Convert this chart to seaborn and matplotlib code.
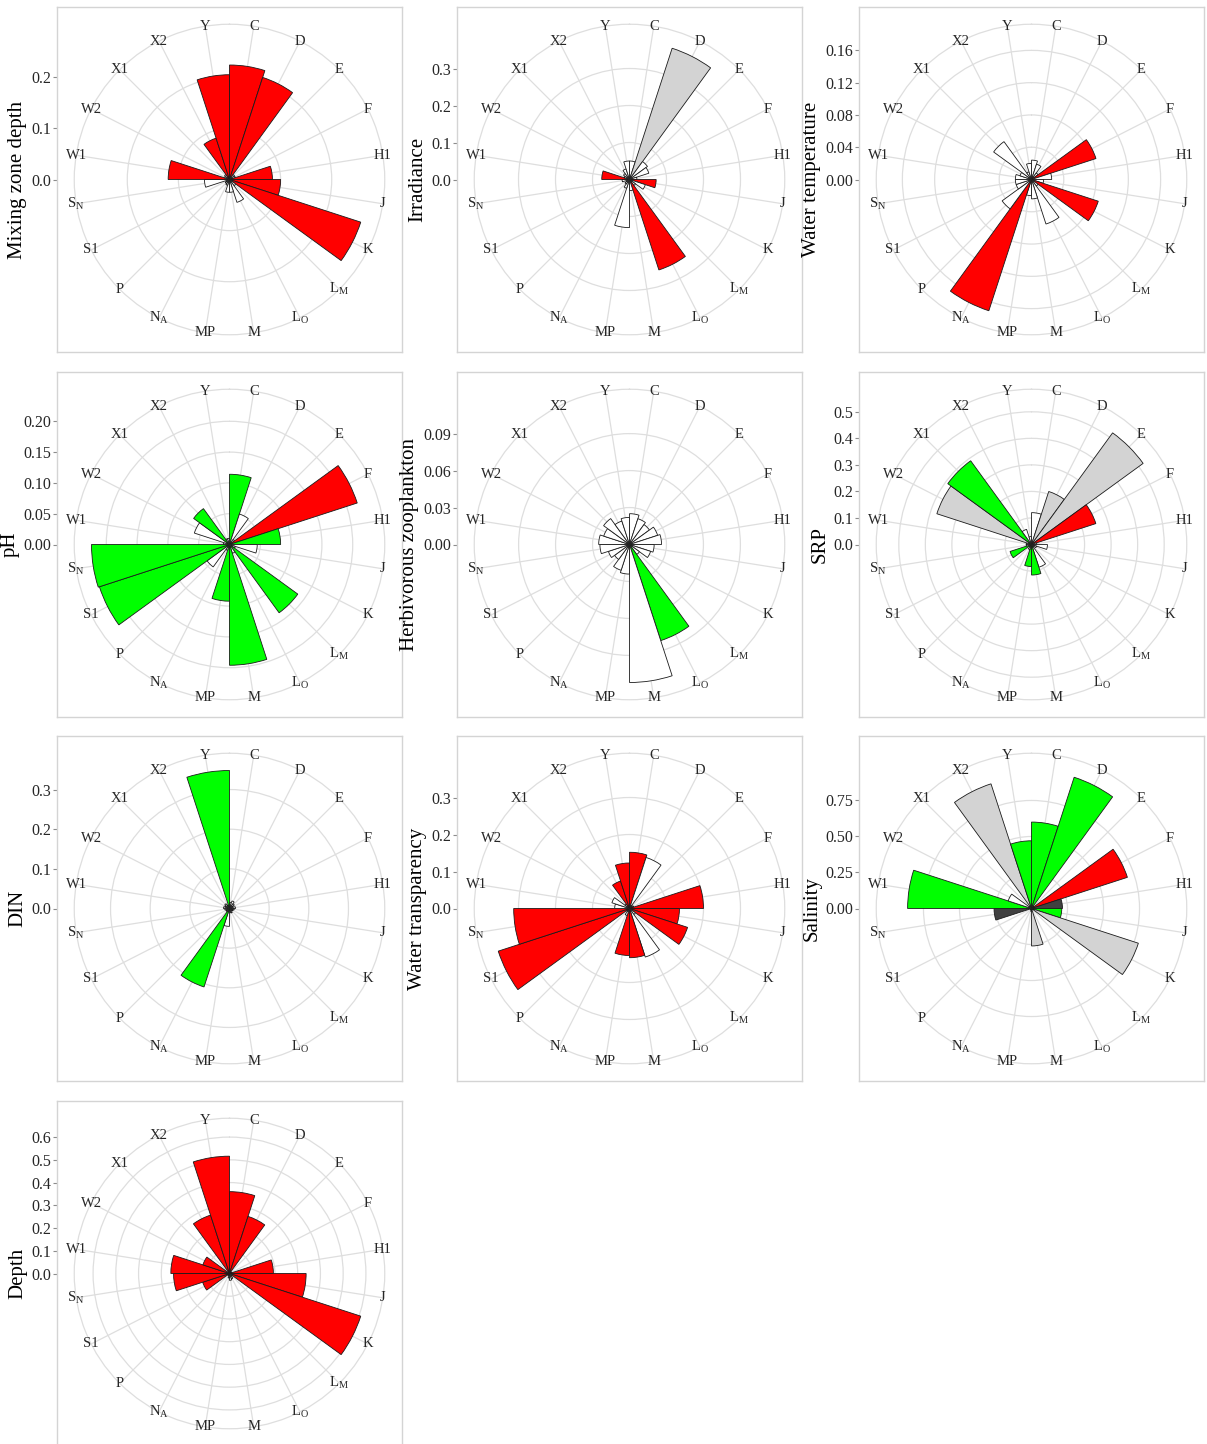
import numpy as np
import matplotlib
matplotlib.use("Agg")
import matplotlib.pyplot as plt
import seaborn as sns

sns.set_theme(style="white")
plt.rcParams['font.family'] = ['Liberation Serif', 'DejaVu Serif']
plt.rcParams['mathtext.fontset'] = 'custom'
plt.rcParams['mathtext.rm'] = 'Liberation Serif'

# categories clockwise from the top
categories = ["C", "D", "E", "F", "H1", "J", "K", "L_M", "L_O", "M",
              "MP", "N_A", "P", "S1", "S_N", "W1", "W2", "X1", "X2", "Y"]
cat_labels = [r"$\mathregular{%s}$" % c if "_" in c else c for c in categories]

# fill codes: r red, g green, l light grey, d dark grey, w white
mixing_vals = [0.224, 0.21, 0.012, 0.012, 0.084, 0.10, 0.27, 0.015, 0.047, 0.025,
               0.025, 0.012, 0.01, 0.008, 0.049, 0.12, 0.01, 0.012, 0.085, 0.205]
mixing_fill = "rrwwrrrwwwwwwwwrwwrr"

irr_vals = [0.05, 0.373, 0.06, 0.055, 0.02, 0.072, 0.045, 0.02, 0.257, 0.03,
            0.13, 0.025, 0.015, 0.01, 0.02, 0.075, 0.015, 0.02, 0.03, 0.05]
irr_fill = "wlwwwrwwrwwwwwwrwwww"

wtemp_vals = [0.024, 0.02, 0.01, 0.084, 0.025, 0.015, 0.087, 0.01, 0.058, 0.024,
              0.02, 0.171, 0.045, 0.02, 0.02, 0.02, 0.015, 0.058, 0.01, 0.02]
wtemp_fill = "wwwrwwrwwwwrwwwwwwww"

ph_vals = [0.114, 0.052, 0.01, 0.218, 0.083, 0.045, 0.01, 0.137, 0.015, 0.196,
           0.092, 0.01, 0.045, 0.222, 0.224, 0.01, 0.06, 0.072, 0.01, 0.01]
ph_fill = "gwwrgwwgwggwwggwwgww"

zoo_vals = [0.025, 0.022, 0.02, 0.024, 0.026, 0.02, 0.018, 0.01, 0.082, 0.112,
            0.024, 0.022, 0.015, 0.018, 0.024, 0.025, 0.022, 0.026, 0.02, 0.022]
zoo_fill = "wwwwwwwwgwwwwwwwwwww"

srp_vals = [0.12, 0.21, 0.52, 0.255, 0.02, 0.06, 0.02, 0.01, 0.09, 0.115,
            0.083, 0.02, 0.01, 0.085, 0.02, 0.02, 0.375, 0.39, 0.06, 0.03]
srp_fill = "wllrwwwwwggwwgwwlgww"

din_vals = [0.015, 0.02, 0.015, 0.01, 0.015, 0.012, 0.01, 0.008, 0.012, 0.01,
            0.045, 0.208, 0.01, 0.01, 0.012, 0.015, 0.012, 0.015, 0.01, 0.348]
din_fill = "wwwwwwwwwwwgwwwwwwwg"

wtr_vals = [0.152, 0.145, 0.01, 0.012, 0.2, 0.135, 0.165, 0.02, 0.138, 0.133,
            0.127, 0.02, 0.01, 0.373, 0.313, 0.04, 0.05, 0.015, 0.078, 0.123]
wtr_fill = "rwwwrrrwwrrwwrrwwwrr"

sal_vals = [0.60, 0.958, 0.02, 0.70, 0.215, 0.21, 0.78, 0.01, 0.01, 0.26,
            0.02, 0.01, 0.01, 0.01, 0.26, 0.86, 0.17, 0.02, 0.91, 0.47]
sal_fill = "ggwrdglwwlwwwwdgwwlg"

depth_vals = [0.36, 0.264, 0.01, 0.01, 0.193, 0.337, 0.607, 0.015, 0.025, 0.03,
              0.02, 0.01, 0.01, 0.124, 0.246, 0.258, 0.123, 0.01, 0.27, 0.516]
depth_fill = "rrwwrrrwwwwwwrrrrwrr"

panels = [
    ("Mixing zone depth", mixing_vals, mixing_fill, [0, 0.1, 0.2], "%.1f"),
    ("Irradiance", irr_vals, irr_fill, [0, 0.1, 0.2, 0.3], "%.1f"),
    ("Water temperature", wtemp_vals, wtemp_fill, [0, 0.04, 0.08, 0.12, 0.16], "%.2f"),
    ("pH", ph_vals, ph_fill, [0, 0.05, 0.10, 0.15, 0.20], "%.2f"),
    ("Herbivorous zooplankton", zoo_vals, zoo_fill, [0, 0.03, 0.06, 0.09], "%.2f"),
    ("SRP", srp_vals, srp_fill, [0, 0.1, 0.2, 0.3, 0.4, 0.5], "%.1f"),
    ("DIN", din_vals, din_fill, [0, 0.1, 0.2, 0.3], "%.1f"),
    ("Water transparency", wtr_vals, wtr_fill, [0, 0.1, 0.2, 0.3], "%.1f"),
    ("Salinity", sal_vals, sal_fill, [0, 0.25, 0.50, 0.75], "%.2f"),
    ("Depth", depth_vals, depth_fill, [0, 0.1, 0.2, 0.3, 0.4, 0.5, 0.6], "%.1f"),
]

fill_colors = {"r": "#FF0000", "g": "#00FF00", "l": "#D3D3D3",
               "d": "#404040", "w": "#FFFFFF"}

W, H = 1207, 1444
fig = plt.figure(figsize=(W / 100, H / 100), dpi=100)

box = 345
col_left = [57, 457, 859]
row_top = [7, 372, 736, 1101]
grid_col = "#DEDEDE"
border_col = "#D4D4D4"
text_col = "#262626"

n = len(categories)
theta = np.arange(n) * 2 * np.pi / n + np.pi / n
width = 2 * np.pi / n

for k, (name, vals, fills, breaks, fmt) in enumerate(panels):
    r, c = divmod(k, 3)
    x0, y0 = col_left[c], row_top[r]
    rmax = max(vals)

    # panel box with the radial axis drawn on the left
    bax = fig.add_axes([x0 / W, 1 - (y0 + box) / H, box / W, box / H])
    bax.set_facecolor("white")
    for sp in bax.spines.values():
        sp.set_color(border_col)
        sp.set_linewidth(1.0)
    bax.set_xticks([])
    bax.set_ylim(-1.25 * rmax, 1.25 * rmax)
    bax.set_yticks(breaks)
    bax.set_yticklabels([fmt % b for b in breaks], fontsize=11.5, color=text_col)
    bax.tick_params(axis="y", left=True, length=3, width=0.8, color="#8C8C8C", pad=1)
    bax.set_ylabel(name, fontsize=15, color="black", labelpad=3)

    # polar bars
    side = 0.9 * box
    pax = fig.add_axes([(x0 + 0.05 * box) / W, 1 - (y0 + 0.05 * box + side) / H,
                        side / W, side / H], projection="polar")
    pax.patch.set_alpha(0)
    pax.set_theta_zero_location("N")
    pax.set_theta_direction(-1)
    pax.set_axisbelow(True)
    pax.bar(theta, vals, width=width, bottom=0, align="center",
            color=[fill_colors[f] for f in fills], edgecolor="#1A1A1A", linewidth=0.6)
    pax.set_ylim(0, 1.125 * rmax)
    pax.set_yticks([b for b in breaks if 0 < b <= rmax])
    pax.set_yticklabels([])
    pax.set_xticks(theta)
    pax.set_xticklabels([])
    pax.grid(True, color=grid_col, linewidth=0.9)
    pax.spines["polar"].set_color(grid_col)
    pax.spines["polar"].set_linewidth(0.9)
    pax.tick_params(axis="both", length=0)
    for t, lab in zip(theta, cat_labels):
        pax.text(t, 1.125 * rmax, lab, ha="center", va="center",
                 fontsize=10.5, color=text_col, clip_on=False)

fig.savefig("out.png", dpi=100)
